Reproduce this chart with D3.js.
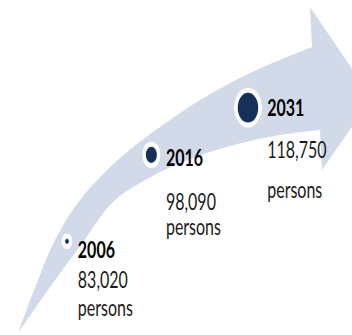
<!DOCTYPE html>
<html>
<head>
<meta charset="utf-8">
<script src="https://cdn.jsdelivr.net/npm/d3@7"></script>
<style>
  html, body { margin: 0; padding: 0; background: #fff; }
  svg { display: block; }
</style>
</head>
<body>
<div id="chart"></div>
<script>
const years = ['2006', '2016', '2031'];
const population = [83020, 98090, 118750];
const units = ['persons', 'persons', 'persons'];

const width = 352;
const height = 335;
const stretch = 1.4; // the picture is drawn taller than it is wide

// background arrow outline
const upperEdge = [[18, 333], [36, 285], [55, 240], [80, 200], [120, 158], [160, 127], [200, 100], [250, 73], [312, 47]];
const headEdge = [[310, 7], [372, 98], [322, 170], [320, 130]];
const lowerEdge = [[320, 130], [280, 135], [230, 146], [180, 163], [140, 183], [112, 203], [83, 242], [48, 290], [18, 333]];

// label baselines, measured down from each dot centre
const labelOffsets = [
  { year: 17, value: 47, unit: 75 },
  { year: 11, value: 55, unit: 80 },
  { year: 8, value: 50, unit: 90 },
];

const svg = d3.select('#chart')
  .append('svg')
  .attr('width', width)
  .attr('height', height);

const edge = d3.line().curve(d3.curveCatmullRom.alpha(0.5));

const outline = edge(upperEdge)
  + d3.line()(headEdge).replace('M', 'L')
  + edge(lowerEdge).replace('M', 'L')
  + 'Z';

svg.append('path')
  .attr('d', outline)
  .attr('fill', '#d2dae9');

// y of an edge at a given x, sampled from the drawn curve
function sampler(points) {
  const node = svg.append('path').attr('d', edge(points)).attr('fill', 'none').node();
  const len = node.getTotalLength();
  const pts = d3.range(0, len, 0.5).map(l => node.getPointAtLength(l));
  node.remove();
  return x => pts.reduce((a, b) => (Math.abs(b.x - x) < Math.abs(a.x - x) ? b : a)).y;
}
const upperAt = sampler(upperEdge);
const lowerAt = sampler(lowerEdge);

const x = d3.scaleLog().domain(d3.extent(population)).range([67, 248]);
const r = d3.scaleSqrt().domain([76000, 120000]).range([0, 10.5]);

const data = years.map((year, i) => {
  const cx = x(population[i]);
  return {
    year,
    value: population[i],
    unit: units[i],
    cx,
    cy: (upperAt(cx) + lowerAt(cx)) / 2,
    r: r(population[i]),
    offsets: labelOffsets[i],
  };
});

const items = svg.selectAll('g.item')
  .data(data)
  .enter().append('g')
  .attr('class', 'item');

items.append('ellipse')
  .attr('cx', d => d.cx)
  .attr('cy', d => d.cy)
  .attr('rx', d => d.r + 3.5)
  .attr('ry', d => (d.r + 3.5) * 1.45)
  .attr('fill', '#fff');

items.append('ellipse')
  .attr('cx', d => d.cx)
  .attr('cy', d => d.cy)
  .attr('rx', d => d.r)
  .attr('ry', d => d.r * 1.45)
  .attr('fill', '#17305a');

const fmt = d3.format(',');

const labels = items.append('g')
  .attr('transform', d => `translate(${d.cx + d.r + 9}, ${d.cy})`)
  .style('font-family', 'Lato, "Open Sans", sans-serif')
  .style('font-size', '16px');

labels.append('text')
  .attr('transform', d => `translate(0, ${d.offsets.year}) scale(1, ${stretch})`)
  .style('font-weight', 'bold')
  .attr('fill', '#000')
  .text(d => d.year);

labels.append('text')
  .attr('transform', d => `translate(0, ${d.offsets.value}) scale(1, ${stretch})`)
  .attr('fill', '#1a1a1a')
  .text(d => fmt(d.value));

labels.append('text')
  .attr('transform', d => `translate(0, ${d.offsets.unit}) scale(1, ${stretch})`)
  .attr('fill', '#1a1a1a')
  .text(d => d.unit);
</script>
</body>
</html>
